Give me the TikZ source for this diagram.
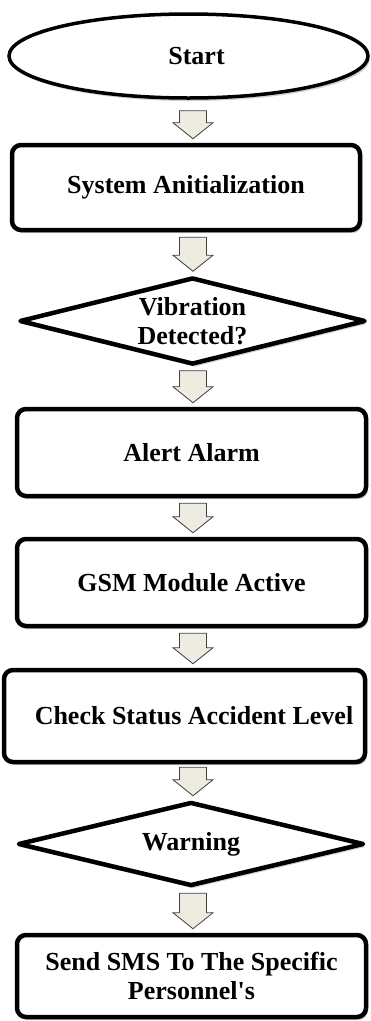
\documentclass[tikz,border=0pt]{standalone}
\usepackage{fontspec}
\setmainfont{Liberation Serif}
\usetikzlibrary{shapes.geometric,shadows,calc}
\definecolor{arrfill}{HTML}{EEECE1}
\definecolor{arrline}{HTML}{404040}
\newcommand\blockarrow[3]{%
  \draw[blockarr] ($(#1.south -| ax)+(-13.5,#3)$) -- ($(#1.south -| ax)+(13.5,#3)$)
    -- ($(#2.north -| ax)+(13.5,-20)$) -- ($(#2.north -| ax)+(20,-20)$)
    -- ($(#2.north -| ax)+(0,-4)$) -- ($(#2.north -| ax)+(-20,-20)$)
    -- ($(#2.north -| ax)+(-13.5,-20)$) -- cycle;}
\begin{document}
\begin{tikzpicture}[x=1pt,y=-1pt,
  every node/.style={font=\bfseries\fontsize{26}{29}\selectfont, align=center, inner sep=0pt},
  shad/.style={drop shadow={shadow xshift=2pt,shadow yshift=-3pt,opacity=0.3,fill=black!60}},
  procbox/.style={rectangle, rounded corners=9pt, draw=black, line width=4.5pt, fill=white, shad},
  decbox/.style={diamond, aspect=4, draw=black, line width=4.5pt, line join=round, fill=white, shad},
  term/.style={ellipse, draw=black, line width=3.5pt, fill=white, shad},
  blockarr/.style={draw=arrline, line width=0.8pt, fill=arrfill, line join=miter}]
\useasboundingbox (0,0) rectangle (371,1021);
\coordinate (ax) at (193,0);
\node[term, minimum width=359pt, minimum height=84pt] (start) at (188.5,56) {\hspace*{16pt}Start};
\node[procbox, minimum width=348pt, minimum height=85pt] (init) at (186,187.5) {System Anitialization};
\node[decbox, minimum width=346pt, minimum height=87pt] (vib) at (192.5,321) {Vibration\\Detected?};
\node[procbox, minimum width=349pt, minimum height=87pt] (alarm) at (191.5,452.5) {Alert Alarm};
\node[procbox, minimum width=349pt, minimum height=87pt] (gsm) at (191.5,582.5) {GSM Module Active};
\node[procbox, minimum width=361pt, minimum height=92pt] (check) at (184.5,716) {\hspace*{19pt}Check Status Accident Level};
\node[decbox, minimum width=346pt, minimum height=84pt] (warn) at (191,844) {Warning};
\node[procbox, minimum width=349pt, minimum height=82pt] (sms) at (191.5,976) {Send SMS To The Specific\\Personnel\textquotesingle s};
\blockarrow{start}{init}{11}
\blockarrow{init}{vib}{5}
\blockarrow{vib}{alarm}{4}
\blockarrow{alarm}{gsm}{5}
\blockarrow{gsm}{check}{5}
\blockarrow{check}{warn}{3}
\blockarrow{warn}{sms}{5}
\end{tikzpicture}
\end{document}
